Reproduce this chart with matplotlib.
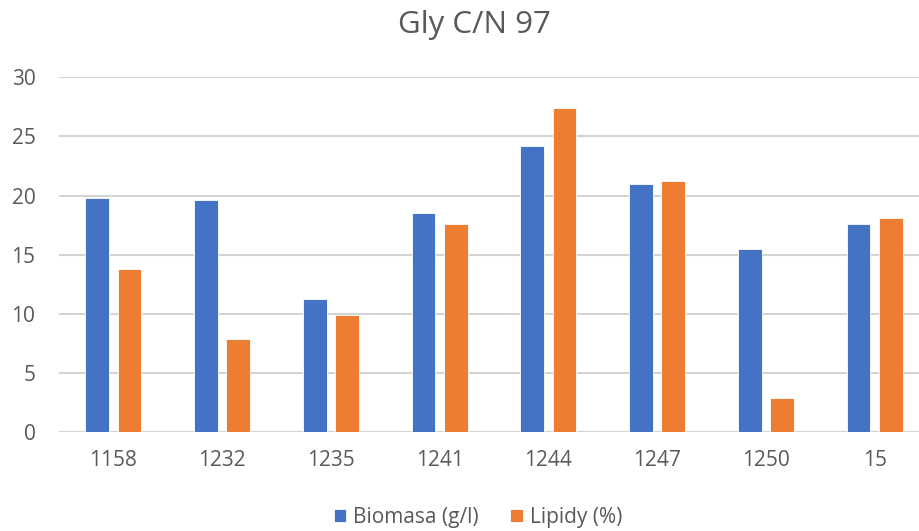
import numpy as np
import matplotlib.pyplot as plt

# Gly C/N 97 - biomasa a lipidy podle kmene
kmeny = ['1158', '1232', '1235', '1241', '1244', '1247', '1250', '15']
biomasa = [19.8, 19.6, 11.3, 18.5, 24.2, 21.0, 15.5, 17.6]
lipidy = [13.8, 7.9, 9.9, 17.6, 27.4, 21.2, 2.9, 18.1]

plt.rcParams['font.family'] = ['Open Sans', 'DejaVu Sans']
sedy = '#595959'

fig = plt.figure(figsize=(9.19, 5.31), dpi=100)
# osa je trochu sirsi nez obrazek, prava cast se oreze
ax = fig.add_axes([59 / 919, 0.1859, 870 / 919, 0.6685])

x = np.arange(len(kmeny))
w = 0.22
ax.bar(x - 0.148, biomasa, w, color='#4472C4', edgecolor='white', linewidth=0.6,
       label='Biomasa (g/l)', zorder=3)
ax.bar(x + 0.148, lipidy, w, color='#ED7D31', edgecolor='white', linewidth=0.6,
       label='Lipidy (%)', zorder=3)

ax.set_xlim(-0.5, len(kmeny) - 0.5)
ax.set_ylim(0, 30)
ax.set_yticks(range(0, 31, 5))
ax.set_xticks(x)
ax.set_xticklabels(kmeny)
ax.tick_params(axis='both', length=0, labelsize=15, colors=sedy)
ax.tick_params(axis='y', pad=17)
ax.tick_params(axis='x', pad=13)
ax.grid(axis='y', color='#d4d4d4', linewidth=1.5, zorder=0)
for s in ax.spines.values():
    s.set_visible(False)

fig.text(474 / 919, 1 - 25 / 531, 'Gly C/N 97', ha='center', va='center',
         fontsize=22.5, color=sedy)

fig.legend(loc='center', bbox_to_anchor=(478 / 919, 1 - 517 / 531), ncol=2,
           frameon=False, fontsize=15, labelcolor=sedy, handlelength=0.6,
           handleheight=0.6, handletextpad=0.35, columnspacing=1.5)

fig.savefig('out.png', dpi=100)
